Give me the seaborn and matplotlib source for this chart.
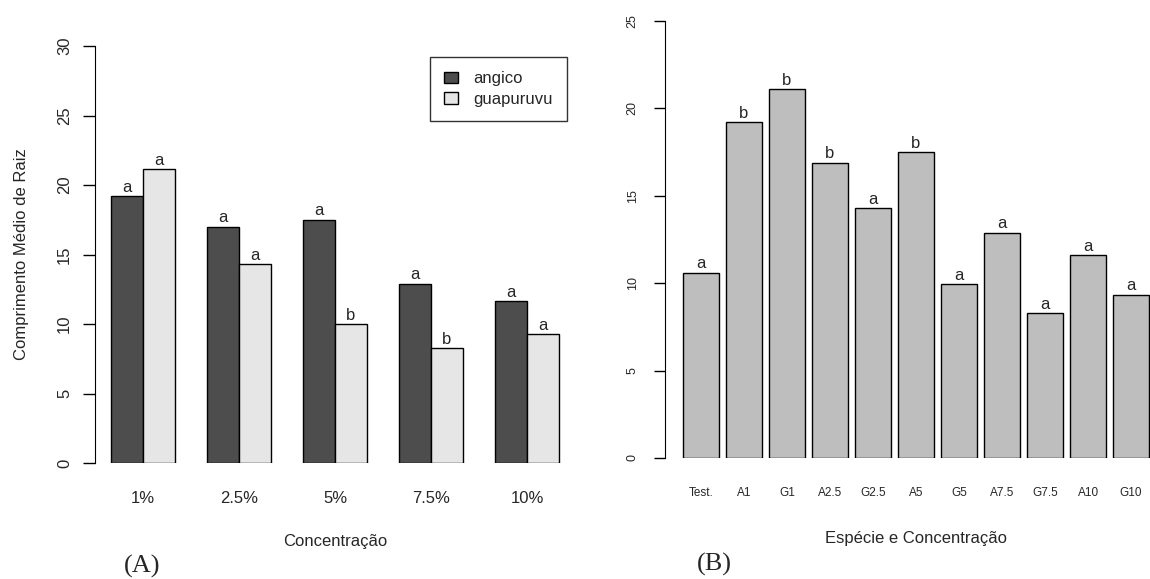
import pandas as pd
import numpy as np
import seaborn as sns
import matplotlib.pyplot as plt
from matplotlib.patches import Patch

# Panel A data
concentracoes = ['1%', '2.5%', '5%', '7.5%', '10%']
angico = [19.2, 17.0, 17.5, 12.9, 11.65]
guapuruvu = [21.15, 14.3, 10.0, 8.27, 9.28]
letras_angico = ['a', 'a', 'a', 'a', 'a']
letras_guapuruvu = ['a', 'a', 'b', 'b', 'a']

# Panel B data
tratamentos = ['Test.', 'A1', 'G1', 'A2.5', 'G2.5', 'A5', 'G5', 'A7.5', 'G7.5', 'A10', 'G10']
comprimento = [10.6, 19.2, 21.1, 16.9, 14.3, 17.5, 9.95, 12.9, 8.3, 11.6, 9.35]
letras_b = ['a', 'b', 'b', 'b', 'a', 'b', 'a', 'a', 'a', 'a', 'a']

sns.set_style('white')
plt.rcParams['font.family'] = ['Liberation Sans', 'DejaVu Sans']

df_a = pd.DataFrame({
    'conc': concentracoes * 2,
    'especie': ['angico'] * 5 + ['guapuruvu'] * 5,
    'valor': angico + guapuruvu,
})
df_b = pd.DataFrame({'trat': tratamentos, 'valor': comprimento})

W, H = 1150, 579
fig = plt.figure(figsize=(W / 100, H / 100), dpi=100)

# ---- panel A
ax1 = fig.add_axes([95 / W, 0.2003, 480 / W, 0.7202])
cores = {'angico': '#4d4d4d', 'guapuruvu': '#e6e6e6'}
sns.barplot(data=df_a, x='conc', y='valor', hue='especie', palette=cores,
            width=2 / 3, saturation=1, edgecolor='black', linewidth=1,
            legend=False, ax=ax1)
for cont, letras in zip(ax1.containers, [letras_angico, letras_guapuruvu]):
    ax1.bar_label(cont, labels=letras, padding=1, fontsize=12)
ax1.set_xlim(-0.5, 4.5)
ax1.set_ylim(0, 30)
ax1.set_yticks(range(0, 31, 5))
ax1.tick_params(axis='y', left=True, labelrotation=90, labelsize=12,
                length=8.5, width=1, pad=8, color='black')
ax1.tick_params(axis='x', bottom=False, length=0, labelsize=12, pad=20)
for lab in ax1.get_yticklabels():
    lab.set_va('center')
for s in ['top', 'right', 'bottom']:
    ax1.spines[s].set_visible(False)
ax1.spines['left'].set_color('black')
ax1.set_xlabel('Concentração', fontsize=12, labelpad=20)
ax1.set_ylabel('Comprimento Médio de Raiz', fontsize=12)
ax1.yaxis.set_label_coords(-0.137, 0.5)
handles = [Patch(facecolor=cores[k], edgecolor='black', label=k) for k in cores]
leg = ax1.legend(handles=handles, loc='upper right', bbox_to_anchor=(0.983, 0.974),
                 borderaxespad=0, fontsize=12, handlelength=0.85, handleheight=0.65,
                 borderpad=0.85, labelspacing=0.35, handletextpad=0.9, fancybox=False)
leg.get_frame().set_edgecolor('black')
leg.get_frame().set_linewidth(1)

# ---- panel B
ax2 = fig.add_axes([665 / W, 0.209, 488 / W, 0.7547])
sns.barplot(data=df_b, x='trat', y='valor', color='#bebebe', width=0.833,
            saturation=1, edgecolor='black', linewidth=1, ax=ax2)
ax2.bar_label(ax2.containers[0], labels=letras_b, padding=1, fontsize=12)
ax2.set_xlim(-0.837, 10.51)
ax2.set_ylim(0, 25)
ax2.set_yticks(range(0, 26, 5))
ax2.tick_params(axis='y', left=True, labelrotation=90, labelsize=9,
                length=8, width=1, pad=11, color='black')
ax2.tick_params(axis='x', bottom=False, length=0, labelsize=8.5, pad=21)
for lab in ax2.get_yticklabels():
    lab.set_va('center')
for s in ['top', 'right', 'bottom']:
    ax2.spines[s].set_visible(False)
ax2.spines['left'].set_color('black')
ax2.set_xlabel('Espécie e Concentração', fontsize=12)
ax2.xaxis.set_label_coords(0.514, -0.168)
ax2.set_ylabel('')

# panel tags
fig.text(142 / W, 1 - 566 / H, '(A)', family='Liberation Serif', fontsize=19,
         ha='center', va='center')
fig.text(714 / W, 1 - 564 / H, '(B)', family='Liberation Serif', fontsize=19,
         ha='center', va='center')

fig.savefig('out.png', dpi=100)
